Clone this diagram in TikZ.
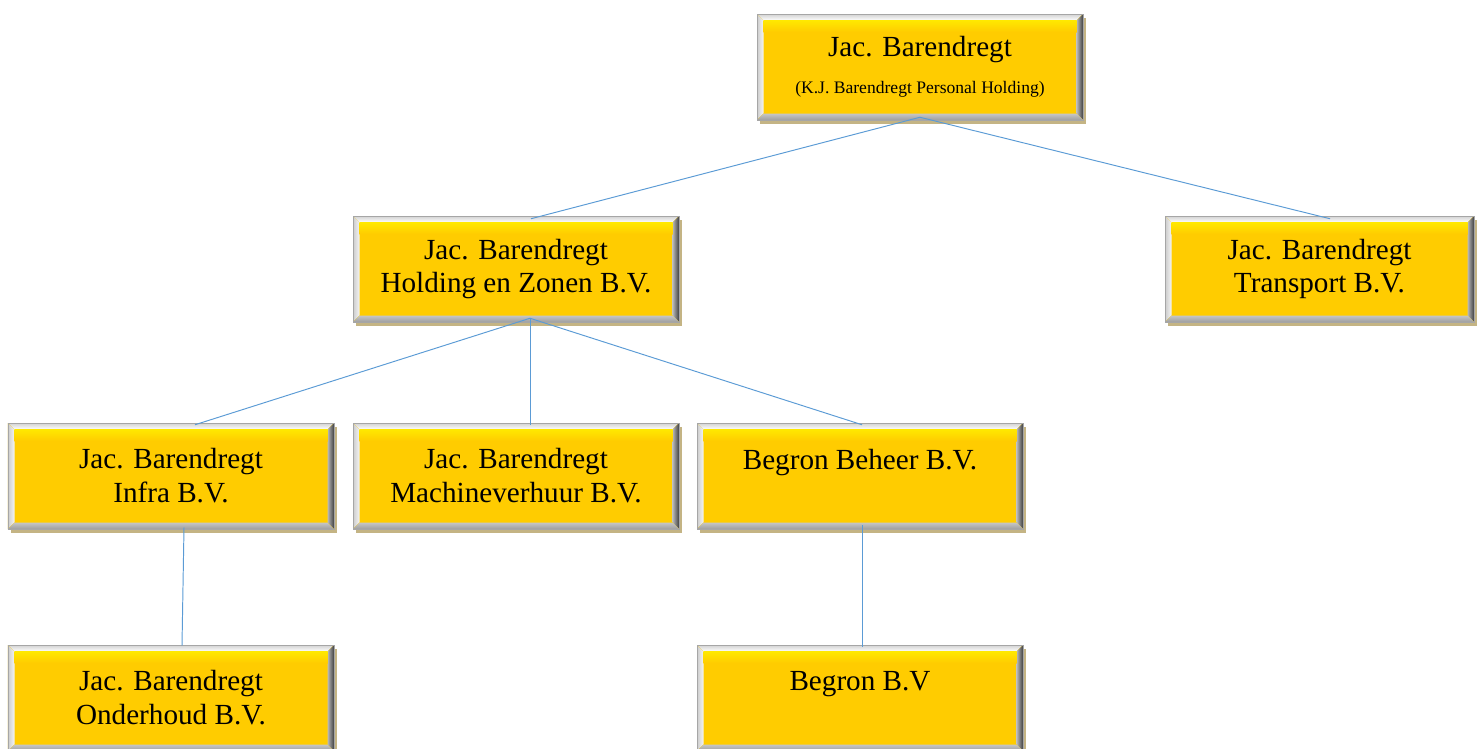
\documentclass[tikz,border=0pt]{standalone}
\usepackage{fontspec}
\setmainfont{Liberation Serif}
\usetikzlibrary{calc,shadows}

\definecolor{boxgold}{RGB}{255,204,0}
\definecolor{boxtan}{RGB}{196,180,132}
\definecolor{linkblue}{RGB}{91,155,213}

\tikzset{
  orgbox/.style={rectangle, minimum height=2.12cm, minimum width=6.52cm,
    inner sep=0pt, align=center, font=\fontsize{16.6}{19.3}\selectfont,
    fill=boxgold, draw=gray!70, line width=0.3pt,
    drop shadow={shadow xshift=0.06cm, shadow yshift=-0.08cm, fill=boxtan, opacity=1},
    path picture={
      \coordinate (pa) at (path picture bounding box.north west);
      \coordinate (pb) at (path picture bounding box.north east);
      \coordinate (pc) at (path picture bounding box.south east);
      \coordinate (pd) at (path picture bounding box.south west);
      \fill[top color=gray!35, bottom color=white] (pa) -- (pb) -- ($(pb)+(-0.13,-0.13)$) -- ($(pa)+(0.13,-0.13)$) -- cycle;
      \fill[left color=gray!40, right color=gray!8] (pa) -- ($(pa)+(0.13,-0.13)$) -- ($(pd)+(0.13,0.13)$) -- (pd) -- cycle;
      \fill[left color=gray!55, right color=black!75] (pb) -- (pc) -- ($(pc)+(-0.13,0.13)$) -- ($(pb)+(-0.13,-0.13)$) -- cycle;
      \fill[top color=gray!45, bottom color=gray!75] (pd) -- ($(pd)+(0.13,0.13)$) -- ($(pc)+(-0.13,0.13)$) -- (pc) -- cycle;
      \fill[top color=yellow!55!boxgold, bottom color=boxgold]
        ($(pa)+(0.13,-0.13)$) rectangle ($(pb)+(-0.13,-0.36)$);
    }},
  link/.style={draw=linkblue, line width=0.55pt}
}

\begin{document}
\begin{tikzpicture}
  \useasboundingbox (0,0) rectangle (29.66,-14.98);

  \node[orgbox] (top) at (18.40,-1.34)
    {Jac. Barendregt\\[2pt]{\fontsize{10}{12}\selectfont (K.J. Barendregt Personal Holding)}};
  \node[orgbox] (hold)   at (10.32,-5.38) {Jac. Barendregt\\Holding en Zonen B.V.};
  \node[orgbox,minimum width=6.18cm] (trans) at (26.39,-5.38) {Jac. Barendregt\\Transport B.V.};
  \node[orgbox] (infra)  at (3.42,-9.52)  {Jac. Barendregt\\Infra B.V.};
  \node[orgbox] (mach)   at (10.32,-9.52) {Jac. Barendregt\\Machineverhuur B.V.};
  \node[orgbox] (beheer) at (17.20,-9.52) {Begron Beheer B.V.\\~};
  \node[orgbox] (onder)  at (3.42,-13.96) {Jac. Barendregt\\Onderhoud B.V.};
  \node[orgbox] (begron) at (17.20,-13.96) {Begron B.V\\~};

  \draw[link] ([yshift=0.06cm]top.south) -- ([xshift=0.30cm,yshift=-0.06cm]hold.north);
  \draw[link] ([yshift=0.06cm]top.south) -- ([xshift=0.21cm,yshift=-0.06cm]trans.north);
  \draw[link] ([xshift=0.28cm,yshift=0.08cm]hold.south) -- ([xshift=0.48cm,yshift=-0.04cm]infra.north);
  \draw[link] ([xshift=0.28cm,yshift=0.08cm]hold.south) -- ([xshift=0.28cm,yshift=-0.04cm]mach.north);
  \draw[link] ([xshift=0.28cm,yshift=0.08cm]hold.south) -- ([xshift=0.04cm,yshift=-0.04cm]beheer.north);
  \draw[link] ([xshift=0.26cm,yshift=0.04cm]infra.south) -- ([xshift=0.22cm,yshift=-0.02cm]onder.north);
  \draw[link] ([xshift=0.04cm,yshift=0.08cm]beheer.south) -- ([xshift=0.04cm,yshift=-0.04cm]begron.north);
\end{tikzpicture}
\end{document}
